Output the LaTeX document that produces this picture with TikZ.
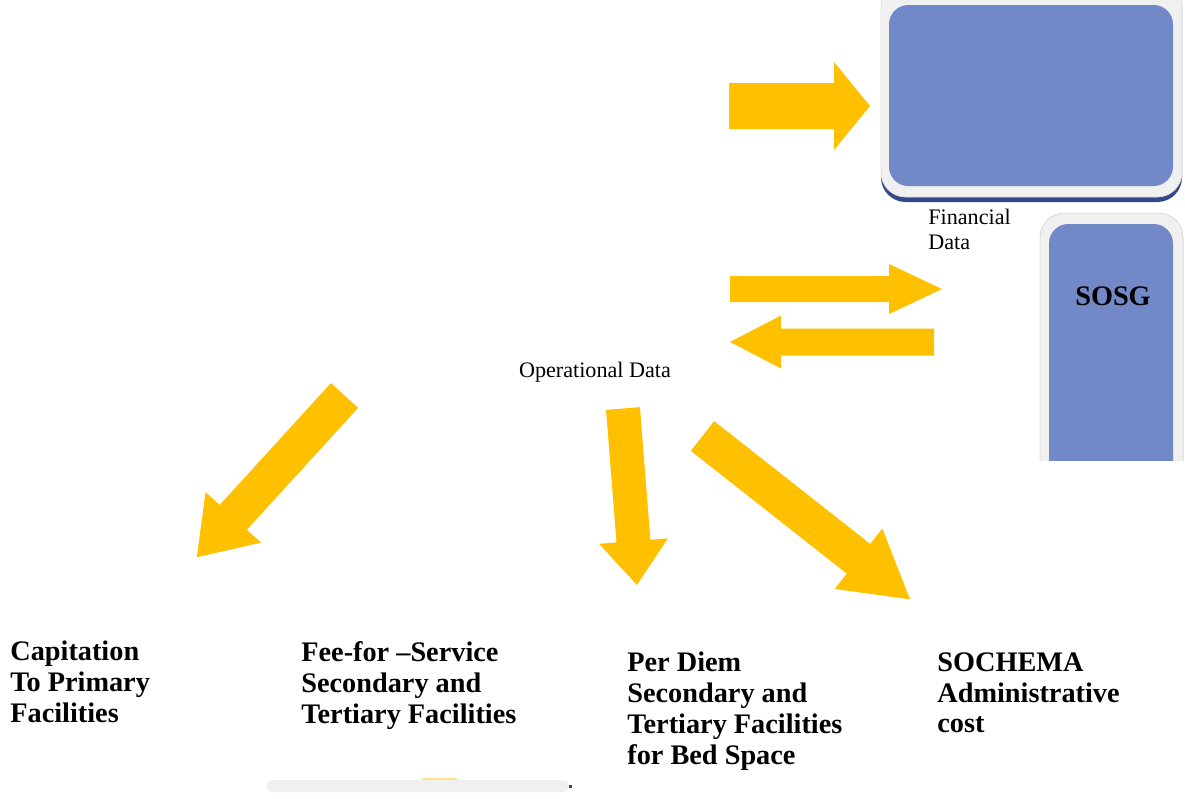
\documentclass[tikz,border=0pt]{standalone}
\usepackage{fontspec}
\setmainfont{Liberation Serif}

\definecolor{arrowfill}{HTML}{FFC000}
\definecolor{faceblue}{HTML}{7388C6}
\definecolor{rimgrey}{HTML}{F0F0F0}
\definecolor{rimline}{HTML}{DCDCDC}
\definecolor{shadowblue}{HTML}{34478A}

\tikzset{
  rim/.style={fill=rimgrey, draw=rimline, line width=0.4pt, rounded corners=14pt},
  face/.style={fill=faceblue, rounded corners=11pt},
  lowshadow/.style={fill=shadowblue, rounded corners=14pt},
  boldlabel/.style={anchor=north west, inner sep=0pt, align=left,
    font=\fontsize{16.1}{17.6}\selectfont\bfseries},
  smalllabel/.style={inner sep=0pt, align=left,
    font=\fontsize{12.6}{14.2}\selectfont}
}

% block arrow: tail point, angle, length, half shaft, head length, half head
\newcommand{\blockarrow}[6]{%
  \fill[arrowfill, shift={(#1)}, rotate=#2]
    (0,-#4) -- ({#3-#5},-#4) -- ({#3-#5},-#6) -- (#3,0)
    -- ({#3-#5},#6) -- ({#3-#5},#4) -- (0,#4) -- cycle;}

\begin{document}
\begin{tikzpicture}[x=0.02cm,y=-0.02cm]
  \useasboundingbox (0,0) rectangle (1185,798);

  % the two blue panels, cut at the page top and below SOSG
  \begin{scope}
    \clip (860,0) rectangle (1185,460);
    \fill[lowshadow] (881,-20) rectangle (1182,202);
    \draw[rim] (881,-20) rectangle (1182,197);
    \fill[face] (889,5) rectangle (1173,186);

    \fill[lowshadow] (1040,213) rectangle (1183,620);
    \draw[rim] (1040,213) rectangle (1183,615);
    \fill[face] (1049,224) rectangle (1173,600);
    \node[font=\fontsize{16.1}{17.6}\selectfont\bfseries] (sosg) at (1113,296) {SOSG};
  \end{scope}

  \node[smalllabel, anchor=north west] (findata) at (928,209) {Financial\\Data};
  \node[smalllabel] (opdata) at (595,372) {Operational Data};

  % arrows
  \blockarrow{729,106}{0}{141}{23}{36}{44}
  \blockarrow{730,289}{0}{212}{13}{53}{25}
  \blockarrow{934,342}{180}{204}{13.5}{51}{26.5}
  \blockarrow{344.5,395.5}{227.6}{219}{18.4}{54}{37.5}
  \blockarrow{623,408.5}{-85.5}{177}{17}{44}{34.5}
  \blockarrow{702.5,436}{-38.2}{264}{18.9}{65.5}{38.5}

  % payment labels
  \node[boldlabel] (cap) at (10,641) {Capitation\\To Primary\\Facilities};
  \node[boldlabel] (fee) at (301,641) {Fee-for --Service\\Secondary and\\Tertiary Facilities};
  \node[boldlabel] (diem) at (627,652) {Per Diem\\Secondary and\\Tertiary Facilities\\for Bed Space};
  \node[boldlabel] (admin) at (937,652) {SOCHEMA\\Administrative\\cost};

  % bar at the foot
  \fill[rimgrey, rounded corners=3pt] (267,780) rectangle (569,792);
  \fill[arrowfill!45] (422,778) rectangle (457,780);
  \fill[shadowblue] (569,785) rectangle (572,788);
\end{tikzpicture}
\end{document}
